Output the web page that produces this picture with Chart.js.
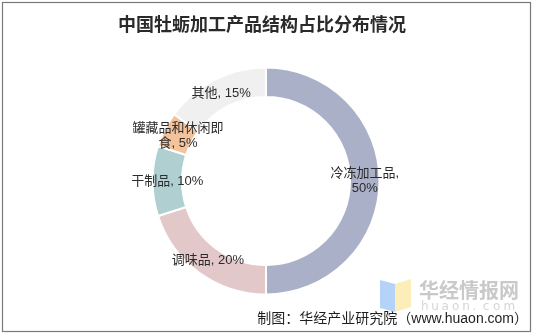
<!DOCTYPE html>
<html>
<head>
<meta charset="utf-8">
<script src="https://cdn.jsdelivr.net/npm/chart.js@4/dist/chart.umd.min.js"></script>
<style>
  html, body { margin: 0; padding: 0; background: #ffffff; }
  #wrap { position: relative; width: 534px; height: 335px; }
</style>
</head>
<body>
<div id="wrap"><canvas id="c" width="534" height="335"></canvas></div>
<script>
// Oyster processing product structure (share, %)
const categories = ['冷冻加工品', '调味品', '干制品', '罐藏品和休闲即食', '其他'];
const shares = [50, 20, 10, 5, 15];
const sliceColors = ['#aab0c8', '#e3c8c9', '#afcfd1', '#f5c39b', '#f0f0f0'];

const titleText = '中国牡蛎加工产品结构占比分布情况';
const sourceText = '制图：华经产业研究院（www.huaon.com）';

const LABEL_FONT = '13px "Liberation Sans", "Noto Sans CJK SC", sans-serif';

// Split text into wrap tokens: CJK characters stand alone, latin runs stay together
function tokenize(str) {
  const out = [];
  let buf = '';
  for (const ch of str) {
    if (/[\u3000-\u9fff\uff00-\uffef]/.test(ch)) {
      if (buf) { out.push(buf); buf = ''; }
      out.push(ch);
    } else if (ch === ' ') {
      if (buf) { out.push(buf); buf = ''; }
      out.push(' ');
    } else {
      buf += ch;
    }
  }
  if (buf) out.push(buf);
  return out;
}

function wrapText(ctx, str, maxW) {
  const tokens = tokenize(str);
  const lines = [];
  let line = '';
  for (const t of tokens) {
    const test = line + t;
    if (line && ctx.measureText(test.trimEnd()).width > maxW) {
      lines.push(line.trimEnd());
      line = t === ' ' ? '' : t;
    } else {
      line = test;
    }
  }
  if (line.trim()) lines.push(line.trimEnd());
  return lines;
}

// Labels centred on each ring segment
const ringLabels = {
  id: 'ringLabels',
  afterDatasetsDraw(chart) {
    const ctx = chart.ctx;
    const meta = chart.getDatasetMeta(0);
    ctx.save();
    ctx.font = LABEL_FONT;
    ctx.fillStyle = '#2b2b2b';
    ctx.textAlign = 'center';
    ctx.textBaseline = 'middle';
    meta.data.forEach((arc, i) => {
      const p = arc.getProps(['x', 'y', 'startAngle', 'endAngle', 'innerRadius', 'outerRadius'], true);
      const mid = (p.startAngle + p.endAngle) / 2;
      const r = (p.innerRadius + p.outerRadius) / 2;
      const cx = p.x + Math.cos(mid) * r;
      const cy = p.y + Math.sin(mid) * r;
      const text = categories[i] + ', ' + shares[i] + '%';
      const lines = wrapText(ctx, text, 93);
      const lh = 15.5;
      const y0 = cy - (lines.length - 1) * lh / 2;
      lines.forEach((ln, k) => ctx.fillText(ln, cx, y0 + k * lh));
    });
    ctx.restore();
  }
};

// Title, source line, frame and site mark
const decorations = {
  id: 'decorations',
  beforeDraw(chart) {
    const ctx = chart.ctx;
    ctx.save();
    ctx.fillStyle = '#ffffff';
    ctx.fillRect(0, 0, chart.width, chart.height);
    ctx.restore();
  },
  afterDraw(chart) {
    const ctx = chart.ctx;
    ctx.save();
    // frame
    ctx.strokeStyle = '#7a7a7a';
    ctx.lineWidth = 1.2;
    ctx.strokeRect(2.5, 2.5, 528, 329);

    // title
    ctx.fillStyle = '#2a2a2a';
    ctx.font = 'bold 18px "Noto Sans CJK SC", sans-serif';
    ctx.textAlign = 'center';
    ctx.textBaseline = 'middle';
    ctx.fillText(titleText, 262, 24);

    // site mark
    ctx.globalAlpha = 0.75;
    ctx.fillStyle = '#9cc3f5';
    ctx.beginPath();
    ctx.moveTo(380, 280); ctx.lineTo(395, 284); ctx.lineTo(395, 312); ctx.lineTo(380, 308);
    ctx.closePath(); ctx.fill();
    ctx.fillStyle = '#fbe7a2';
    ctx.beginPath();
    ctx.moveTo(395, 284); ctx.lineTo(411, 279); ctx.lineTo(411, 307); ctx.lineTo(395, 312);
    ctx.closePath(); ctx.fill();
    ctx.globalAlpha = 1;
    ctx.fillStyle = '#c9c9c9';
    ctx.font = 'bold 20px "Noto Sans CJK SC", sans-serif';
    ctx.textAlign = 'left';
    ctx.fillText('华经情报网', 419, 290);
    ctx.fillStyle = '#d6d6d6';
    ctx.font = '12px "DejaVu Sans", sans-serif';
    const mark = 'huaon.com';
    let x = 421;
    for (const ch of mark) { ctx.fillText(ch, x, 307); x += 10.3; }

    // source line
    ctx.fillStyle = '#1e1e1e';
    ctx.font = '14px "Liberation Sans", "Noto Sans CJK SC", sans-serif';
    ctx.textAlign = 'right';
    ctx.fillText(sourceText, 528, 319);
    ctx.restore();
  }
};

new Chart(document.getElementById('c'), {
  type: 'doughnut',
  data: {
    labels: categories,
    datasets: [{
      data: shares,
      backgroundColor: sliceColors,
      borderColor: '#ffffff',
      borderWidth: 2,
      hoverOffset: 0
    }]
  },
  options: {
    responsive: false,
    animation: false,
    cutout: '74%',
    layout: { padding: { top: 66.5, bottom: 39.5, left: 0, right: 2 } },
    plugins: {
      legend: { display: false },
      tooltip: { enabled: false },
      title: { display: false }
    }
  },
  plugins: [decorations, ringLabels]
});
</script>
</body>
</html>
